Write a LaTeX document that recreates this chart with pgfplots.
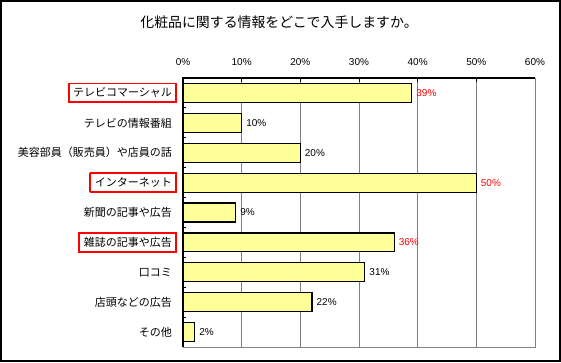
\documentclass[border=0pt]{standalone}
\usepackage{pgfplots}
\pgfplotsset{compat=1.18}
\usepackage{fontspec}
\setmainfont{Liberation Sans}
\newfontfamily\cjk{Noto Sans CJK JP}
\definecolor{baryellow}{RGB}{255,255,153}
\definecolor{gridgray}{RGB}{128,128,128}
\newcommand\rbox[1]{{\setlength\fboxrule{1.8pt}\setlength\fboxsep{3.5pt}\fcolorbox{red}{white}{#1}\kern-5.3pt}}
\begin{document}
\begin{tikzpicture}
\useasboundingbox (0pt,0pt) rectangle (561pt,362pt);
\draw[line width=1.6pt] (0.8pt,0.8pt) rectangle (560.2pt,361.2pt);
\node[font=\cjk\fontsize{13.9}{16}\selectfont] at (279pt,340pt) {化粧品に関する情報をどこで入手しますか。};
\begin{axis}[
  at={(183pt,15pt)}, anchor=south west,
  scale only axis, width=352pt, height=269pt,
  xmin=0, xmax=60, ymin=-0.5, ymax=8.5, y dir=reverse,
  xbar, bar width=0.635, bar shift=0pt,
  axis line style={gridgray, line width=1pt},
  xmajorgrids, grid style={gridgray, line width=1pt},
  xtick={0,10,20,30,40,50,60},
  xticklabels={0\%,10\%,20\%,30\%,40\%,50\%,60\%},
  xtick pos=right, xticklabel pos=right, ytick pos=left,
  tick align=inside,
  major tick length=4pt, minor tick length=3pt,
  tick style={black, line width=1pt},
  every major y tick/.append style={draw=none},
  ytick={0,1,2,3,4,5,6,7,8},
  minor ytick={-0.5,0.5,1.5,2.5,3.5,4.5,5.5,6.5,7.5,8.5},
  yticklabels={\rbox{テレビコマーシャル},テレビの情報番組,美容部員（販売員）や店員の話,\rbox{インターネット},新聞の記事や広告,\rbox{雑誌の記事や広告},口コミ,店頭などの広告,その他},
  yticklabel style={font=\cjk\fontsize{11}{13}\selectfont, anchor=east, inner sep=0pt},
  yticklabel shift=11pt,
  xticklabel style={font=\fontsize{10}{12}\selectfont, anchor=south, inner sep=0pt},
  xticklabel shift=12.5pt,
  /pgf/number format/assume math mode=true,
  nodes near coords={\pgfmathprintnumber{\pgfplotspointmeta}\%},
  every node near coord/.append style={font=\fontsize{10}{12}\selectfont, anchor=west, inner sep=0pt, xshift=4pt},
  clip=false,
]
\addplot[fill=baryellow, draw=black, line width=1.2pt, point meta=x,
  every node near coord/.append style={text=red}]
  coordinates {(39,0) (50,3) (36,5)};
\addplot[fill=baryellow, draw=black, line width=1.2pt, point meta=x,
  every node near coord/.append style={text=black}]
  coordinates {(10,1) (20,2) (9,4) (31,6) (22,7) (2,8)};
\draw[black, line width=1.3pt] (axis description cs:0,0) -- (axis description cs:0,1) -- (axis description cs:1,1);
\end{axis}
\end{tikzpicture}
\end{document}
